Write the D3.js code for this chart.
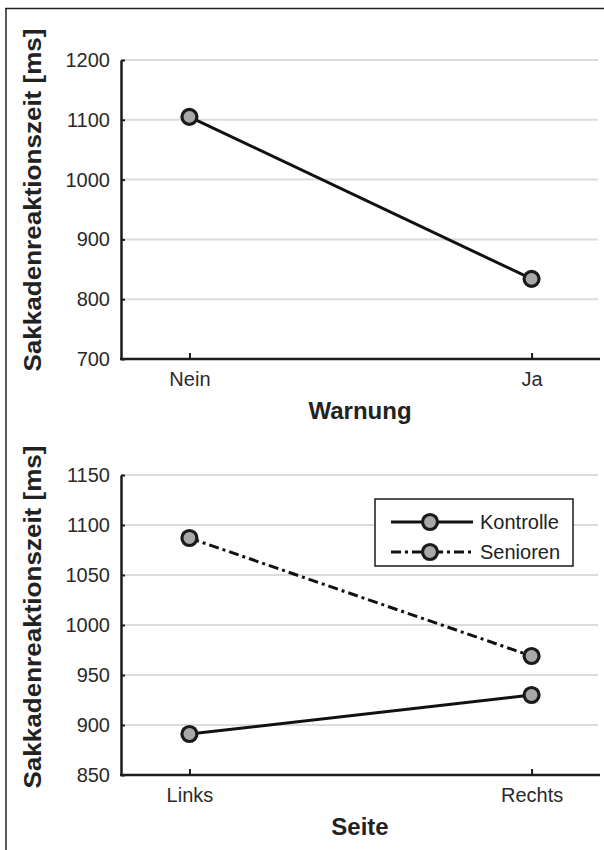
<!DOCTYPE html>
<html><head><meta charset="utf-8">
<script src="https://cdn.jsdelivr.net/npm/d3@7"></script>
<style>
html,body{margin:0;padding:0;background:#fff;}
svg{display:block;font-family:"Liberation Sans",Arial,Helvetica,sans-serif;}
</style></head>
<body>
<svg id="chart" width="604" height="850"></svg>
<script>
// ---- data ----
const warnCategories = ["Nein", "Ja"];
const warnValues = [1105, 834];
const warnTicks = [700, 800, 900, 1000, 1100, 1200];

const sideCategories = ["Links", "Rechts"];
const kontrolleValues = [891, 930];
const seniorenValues = [1087, 969];
const sideTicks = [850, 900, 950, 1000, 1050, 1100, 1150];
const seriesNames = ["Kontrolle", "Senioren"];

const yLabel = "Sakkadenreaktionszeit [ms]";

// ---- drawing ----
const svg = d3.select("#chart");
const ink = "#1c1c1c";
const dashSen = "10,4,3,4";

// outer frame (top & left only)
svg.append("line").attr("x1", 5).attr("x2", 604).attr("y1", 8.5).attr("y2", 8.5)
  .attr("stroke", "#222").attr("stroke-width", 1.5);
svg.append("line").attr("x1", 6).attr("x2", 6).attr("y1", 8).attr("y2", 850)
  .attr("stroke", "#222").attr("stroke-width", 1.5);

function panel(cfg) {
  const x = d3.scalePoint().domain(cfg.categories).range([121, 600]).padding(0.2);
  const y = d3.scaleLinear().domain([cfg.ticks[0], cfg.ticks[cfg.ticks.length - 1]]).range([cfg.yBottom, cfg.yTop]);
  const g = svg.append("g");

  // gridlines
  g.selectAll("line.grid").data(cfg.ticks.slice(1)).join("line")
    .attr("x1", 122).attr("x2", 598)
    .attr("y1", d => y(d)).attr("y2", d => y(d))
    .attr("stroke", "#dcdcdc").attr("stroke-width", 2);

  // y axis
  const ya = g.append("g").attr("transform", "translate(121,0)")
    .call(d3.axisLeft(y).tickValues(cfg.ticks).tickSizeInner(-4).tickSizeOuter(0).tickPadding(11).tickFormat(d3.format("d")));
  ya.select(".domain").attr("stroke", ink).attr("stroke-width", 2.5);
  ya.selectAll(".tick line").attr("stroke", ink).attr("stroke-width", 2);
  ya.selectAll(".tick text").attr("fill", "#2a2a2a").style("font-size", "20px").attr("font-family", null);

  // x axis
  const xa = g.append("g").attr("transform", `translate(0,${cfg.yBottom})`)
    .call(d3.axisBottom(x).tickSizeInner(-6).tickSizeOuter(0).tickPadding(13));
  xa.select(".domain").attr("stroke", ink).attr("stroke-width", 2.5)
    .attr("d", `M120,0H600`);
  xa.selectAll(".tick line").attr("stroke", ink).attr("stroke-width", 2);
  xa.selectAll(".tick text").attr("fill", "#2a2a2a").style("font-size", "20px").attr("font-family", null);

  // x title
  g.append("text").attr("x", 360).attr("y", cfg.yBottom + 60)
    .attr("text-anchor", "middle").attr("font-weight", "bold")
    .style("font-size", "24px").attr("fill", "#222").text(cfg.xTitle);

  // y title
  g.append("text")
    .attr("transform", `translate(41,${cfg.yLabelCenter}) rotate(-90)`)
    .attr("text-anchor", "middle").attr("font-weight", "bold")
    .style("font-size", "24px").attr("fill", "#222")
    .attr("textLength", 343).attr("lengthAdjust", "spacingAndGlyphs")
    .text(yLabel);

  // series
  cfg.series.forEach(s => {
    const pts = cfg.categories.map((c, i) => [x(c), y(s.values[i])]);
    g.append("path").attr("d", d3.line()(pts)).attr("fill", "none")
      .attr("stroke", "#111").attr("stroke-width", 3)
      .attr("stroke-dasharray", s.dash || null);
    g.selectAll(null).data(pts).join("circle")
      .attr("cx", d => d[0]).attr("cy", d => d[1]).attr("r", 7.5)
      .attr("fill", "#a8a8a8").attr("stroke", "#1a1a1a").attr("stroke-width", 3.2);
  });
  return {x, y, g};
}

panel({
  categories: warnCategories, ticks: warnTicks, yTop: 60, yBottom: 359,
  xTitle: "Warnung", yLabelCenter: 200,
  series: [{values: warnValues}]
});

panel({
  categories: sideCategories, ticks: sideTicks, yTop: 475, yBottom: 775,
  xTitle: "Seite", yLabelCenter: 617,
  series: [{values: kontrolleValues}, {values: seniorenValues, dash: dashSen}]
});

// legend
const lg = svg.append("g");
lg.append("rect").attr("x", 375).attr("y", 499).attr("width", 198).attr("height", 67)
  .attr("fill", "#fff").attr("stroke", "#1a1a1a").attr("stroke-width", 1.5);
const dashes = [null, dashSen];
seriesNames.forEach((n, i) => {
  const yy = 522 + i * 30;
  lg.append("line").attr("x1", 391).attr("x2", 473).attr("y1", yy).attr("y2", yy)
    .attr("stroke", "#111").attr("stroke-width", 3).attr("stroke-dasharray", dashes[i]);
  lg.append("circle").attr("cx", 430).attr("cy", yy).attr("r", 7.5)
    .attr("fill", "#a8a8a8").attr("stroke", "#1a1a1a").attr("stroke-width", 3.2);
  lg.append("text").attr("x", 480).attr("y", yy).attr("dy", "0.36em")
    .style("font-size", "20px").attr("fill", "#222").text(n);
});
</script>
</body></html>
